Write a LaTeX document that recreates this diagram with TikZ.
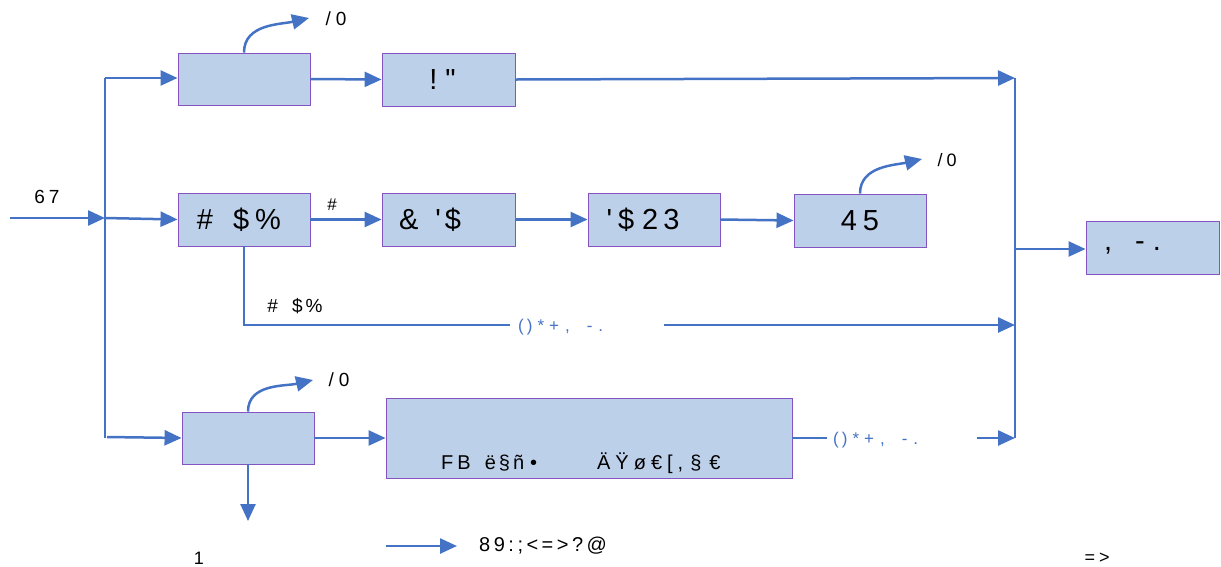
\documentclass[tikz,border=0pt]{standalone}
\usepackage{fontspec}
\usetikzlibrary{arrows.meta}
\newfontfamily\lsans{Liberation Sans}
\definecolor{flow}{RGB}{68,114,196}
\definecolor{boxfill}{RGB}{189,208,233}
\definecolor{boxline}{RGB}{132,84,192}
\newcommand{\fs}[1]{\fontsize{#1}{#1}\selectfont}
\newcommand{\pad}[1]{\hspace{#1}\null}
\tikzset{
  every node/.style={font=\lsans},
  blk/.style={draw=boxline, line width=0.9pt, fill=boxfill, inner sep=0pt,
              minimum width=132pt, minimum height=52pt, font=\lsans\fs{29}},
  wire/.style={draw=flow, line width=2.5pt},
  arr/.style={wire, -{Triangle[length=17pt,width=15pt]}},
  lbl/.style={font=\lsans\fs{19}, inner sep=0pt},
  bluelbl/.style={font=\lsans\fs{17}, text=flow, inner sep=0pt}
}
\begin{document}
\begin{tikzpicture}[x=1pt,y=-1pt]
\useasboundingbox (0,0) rectangle (1221,566);

% processing blocks
\node[blk] (A) at (244,79) {};
\node[blk, minimum width=133pt, minimum height=53pt] (B) at (448.5,79.5) {!\hspace{8pt}"\pad{12pt}};
\node[blk, minimum height=53pt] (C) at (244,219.5) {\#\hspace{20pt}\$\hspace{6pt}\%\pad{10pt}};
\node[blk, minimum width=133pt, minimum height=53pt] (D) at (448.5,219.5) {\&\hspace{17pt}'\hspace{4pt}\$\pad{37pt}};
\node[blk, minimum height=53pt] (E) at (654,219.5) {'\hspace{6pt}\$\hspace{8pt}2\hspace{5pt}3\pad{22pt}};
\node[blk, minimum height=53pt] (F) at (860,220.5) {4\hspace{6pt}5};
\node[blk, minimum width=133pt, minimum height=53pt] (G) at (1152.5,247.5) {,\hspace{23pt}-\hspace{8pt}.\pad{40pt}};
\node[blk] (H) at (248,438) {};
\node[blk, minimum width=406pt, minimum height=80pt] (I) at (589,438) {};
\node[font=\lsans\fs{20}, inner sep=0pt, anchor=west] (Itxt) at (441,463)
  {F\hspace{4pt}B\hspace{14pt}ë\hspace{3pt}§\hspace{3pt}ñ\hspace{6pt}•\hspace{60pt}Ä\hspace{5pt}Ÿ\hspace{5pt}ø\hspace{5pt}€\hspace{5pt}[\hspace{5pt},\hspace{7pt}§\hspace{8pt}€};

% bus points and free ends
\coordinate (in0) at (10,218);
\coordinate (busLt) at (105,78);
\coordinate (busLm) at (105,218);
\coordinate (busLb) at (105,438);
\coordinate (busLb2) at (107,437);
\coordinate (busRt) at (1015,78);
\coordinate (busRm) at (1015,325);
\coordinate (busRg) at (1015,249);
\coordinate (busRb) at (1015,438);
\coordinate (outA) at (309,18);
\coordinate (outF) at (922,159);
\coordinate (outH) at (313,380);
\coordinate (downH) at (248,521);
\coordinate (m1) at (510,325);
\coordinate (m2) at (664,325);
\coordinate (b1) at (827,438);
\coordinate (b2) at (977,438);
\coordinate (leg1) at (386,546);
\coordinate (leg2) at (457,546);

% left input and bus
\draw[arr] (in0) -- (busLm);
\draw[wire] (busLt) -- (busLb);
\draw[arr] (busLt) -- (A.west |- busLt);
\draw[arr] (busLm) -- (C.west);
\draw[arr] (busLb2) -- (H.west);

% right bus
\draw[wire] (busRt) -- (busRb);
\draw[arr] (busRg) -- (G.west |- busRg);

% top row
\draw[arr] (A.east) -- (B.west);
\draw[arr] (B.east) -- (busRt);
\draw[arr] (A.north) to[out=90, in=193] (outA);

% middle row
\draw[arr] (C.east) -- (D.west);
\draw[arr] (D.east) -- (E.west);
\draw[arr] (E.east) -- (F.west);
\draw[arr] (F.north) to[out=90, in=193] (outF);
\draw[wire] (C.south) |- (m1);
\draw[arr] (m2) -- (busRm);

% bottom row
\draw[arr] (H.east) -- (I.west);
\draw[arr] (H.north) to[out=90, in=193] (outH);
\draw[arr] (H.south) -- (downH);
\draw[wire] (I.east) -- (b1);
\draw[arr] (b2) -- (busRb);

% legend
\draw[arr] (leg1) -- (leg2);

% labels
\node[lbl] (l67) at (47,197) {6\hspace{4pt}7};
\node[lbl] (lA) at (336,19) {/\hspace{5pt}0};
\node[lbl, font=\lsans\fs{18}] (lF) at (947,160) {/\hspace{4pt}0};
\node[lbl] (lH) at (339,380) {/\hspace{5pt}0};
\node[lbl, font=\lsans\fs{17}] (lCD) at (332,205) {\#};
\node[lbl] (lCs) at (295,306) {\#\hspace{14pt}\$\hspace{3pt}\%};
\node[bluelbl, anchor=west] (lM) at (518,327) {(\hspace{3pt})\hspace{5pt}*\hspace{5pt}+\hspace{6pt},\hspace{17pt}-\hspace{6pt}.};
\node[bluelbl, anchor=west] (lB) at (833,440) {(\hspace{3pt})\hspace{5pt}*\hspace{5pt}+\hspace{6pt},\hspace{17pt}-\hspace{6pt}.};
\node[lbl, font=\lsans\fs{20}, anchor=west] (lLeg) at (479,546) {8\hspace{3.5pt}9\hspace{3.5pt}:\hspace{3.5pt};\hspace{3.5pt}<\hspace{3.5pt}=\hspace{3.5pt}>\hspace{3.5pt}?\hspace{3.5pt}@};
\node[lbl, font=\lsans\fs{18}] (l1) at (199,558) {1};
\node[lbl, font=\lsans\fs{18}] (lEnd) at (1097,558) {=\hspace{4pt}>};
\end{tikzpicture}
\end{document}
